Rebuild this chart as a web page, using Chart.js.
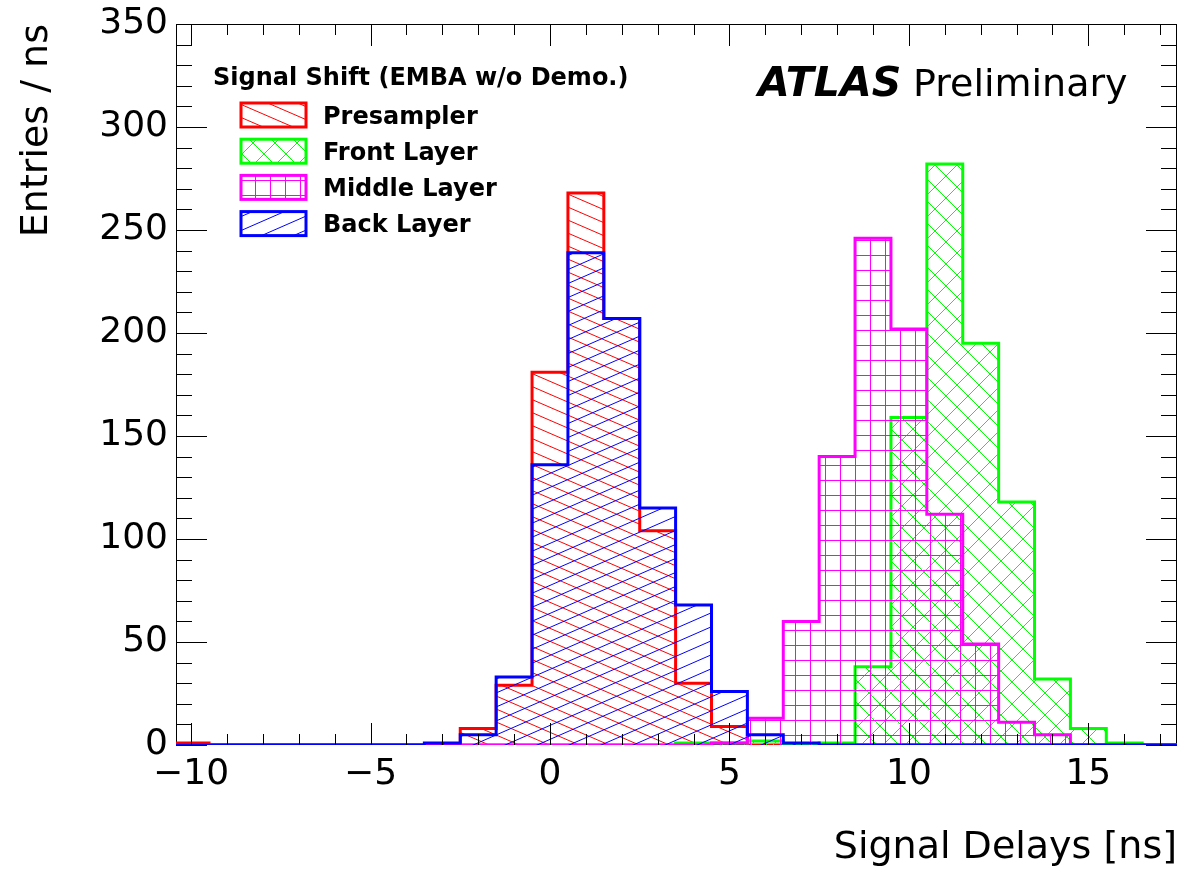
<!DOCTYPE html>
<html>
<head>
<meta charset="utf-8">
<script src="https://cdn.jsdelivr.net/npm/chart.js@4.4.1/dist/chart.umd.min.js"></script>
<style>
  html, body { margin: 0; padding: 0; background: #fff; }
  canvas { display: block; }
</style>
</head>
<body>
<canvas id="chart" width="1183" height="872"></canvas>
<script>
// bin centres, 1 ns wide bins
const binCenters = [-10, -9, -8, -7, -6, -5, -4, -3, -2, -1, 0, 1, 2, 3, 4, 5, 6, 7, 8, 9, 10, 11, 12, 13, 14, 15, 16, 17];

const presampler = [1, 0, 0, 0, 0, 0, 0, 0, 8, 29, 181, 268, 207, 104, 30, 9, 0, 0, 0, 0, 0, 0, 0, 0, 0, 0, 0, 0];
const frontLayer = [0, 0, 0, 0, 0, 0, 0, 0, 0, 0, 0, 0, 0, 0, 1, 1, 2, 0, 1, 38, 159, 282, 195, 118, 32, 8, 1, 0];
const middleLayer = [0, 0, 0, 0, 0, 0, 0, 0, 0, 0, 0, 0, 0, 0, 0, 1, 13, 60, 140, 246, 202, 112, 49, 11, 5, 0, 0, 0];
const backLayer = [0, 0, 0, 0, 0, 0, 0, 1, 5, 33, 136, 239, 207, 115, 68, 26, 5, 1, 0, 0, 0, 0, 0, 0, 0, 0, 0, 0];

const seriesNames = ['Presampler', 'Front Layer', 'Middle Layer', 'Back Layer'];
const seriesColors = ['#ff0000', '#00ff00', '#ff00ff', '#0000ff'];

const xTickValues = [-10, -5, 0, 5, 10, 15];
const yTickValues = [0, 50, 100, 150, 200, 250, 300, 350];

const FONT = '"DejaVu Sans", sans-serif';

// hatch tiles (ROOT-like fill styles)
function makePattern(color, kind) {
  const t = document.createElement('canvas');
  const c = t.getContext('2d');
  let w, h;
  if (kind === 'down') { w = 30; h = 13; }
  else if (kind === 'up') { w = 32; h = 14; }
  else if (kind === 'cross') { w = 22; h = 22; }
  else { w = 15; h = 15; }
  t.width = w; t.height = h;
  c.strokeStyle = color;
  c.lineWidth = 1;
  c.beginPath();
  if (kind === 'down') {
    for (let k = -3; k <= 3; k++) { c.moveTo(-w, k * h - h); c.lineTo(2 * w, k * h + 2 * h); }
  } else if (kind === 'up') {
    for (let k = -3; k <= 3; k++) { c.moveTo(-w, k * h + h); c.lineTo(2 * w, k * h - 2 * h); }
  } else if (kind === 'cross') {
    for (let o = -w; o <= w; o += w) {
      c.moveTo(o, 0); c.lineTo(o + w, h);
      c.moveTo(o + w, 0); c.lineTo(o, h);
    }
  } else {
    c.moveTo(0.5, 0); c.lineTo(0.5, h);
    c.moveTo(0, 0.5); c.lineTo(w, 0.5);
  }
  c.stroke();
  return document.getElementById('chart').getContext('2d').createPattern(t, 'repeat');
}

const patterns = [
  makePattern(seriesColors[0], 'down'),
  makePattern(seriesColors[1], 'cross'),
  makePattern(seriesColors[2], 'grid'),
  makePattern(seriesColors[3], 'up'),
];

function stepPoints(values) {
  const pts = [{ x: binCenters[0] - 0.5, y: 0 }];
  binCenters.forEach((c, i) => pts.push({ x: c - 0.5, y: values[i] }));
  const end = binCenters[binCenters.length - 1] + 0.5;
  pts.push({ x: end, y: values[values.length - 1] });
  pts.push({ x: end, y: 0 });
  return pts;
}

const allSeries = [presampler, frontLayer, middleLayer, backLayer];

const frame = {
  id: 'frame',
  beforeDatasetsDraw(chart) {
    const { ctx, chartArea: a } = chart;
    ctx.save();
    ctx.strokeStyle = '#000';
    ctx.lineWidth = 1;
    ctx.strokeRect(a.left + 0.5, a.top + 0.5, a.right - a.left - 1, a.bottom - a.top - 1);
    ctx.restore();
  },
  afterDatasetsDraw(chart) {
    const { ctx, chartArea: a, scales: { x, y } } = chart;
    ctx.save();
    ctx.strokeStyle = '#000';
    ctx.lineWidth = 1;
    ctx.beginPath();
    for (let v = -10; v <= 17; v++) {
      const px = Math.round(x.getPixelForValue(v)) + 0.5;
      const len = v % 5 === 0 ? 22 : 11;
      ctx.moveTo(px, a.bottom); ctx.lineTo(px, a.bottom - len);
      ctx.moveTo(px, a.top); ctx.lineTo(px, a.top + len);
    }
    for (let v = 0; v <= 350; v += 10) {
      const py = Math.round(y.getPixelForValue(v)) + 0.5;
      const len = v % 50 === 0 ? 31 : 16;
      ctx.moveTo(a.left, py); ctx.lineTo(a.left + len, py);
      ctx.moveTo(a.right, py); ctx.lineTo(a.right - len, py);
    }
    ctx.stroke();

    // ATLAS label
    ctx.fillStyle = '#000';
    ctx.textBaseline = 'alphabetic';
    ctx.font = 'italic bold 41px ' + FONT;
    ctx.fillText('ATLAS', 758, 96);
    ctx.font = '38px ' + FONT;
    ctx.fillText('Preliminary', 913, 96);

    // legend
    ctx.font = 'bold 24px ' + FONT;
    ctx.fillText('Signal Shift (EMBA w/o Demo.)', 213, 85);
    seriesNames.forEach((name, i) => {
      const by = 103 + i * 36.2;
      ctx.fillStyle = patterns[i];
      ctx.fillRect(241, by, 65, 24);
      ctx.strokeStyle = seriesColors[i];
      ctx.lineWidth = 3;
      ctx.strokeRect(241, by, 65, 24);
      ctx.fillStyle = '#000';
      ctx.fillText(name, 323, by + 20.5);
    });
    ctx.restore();
  }
};

new Chart(document.getElementById('chart'), {
  type: 'line',
  data: {
    datasets: allSeries.map((vals, i) => ({
      label: seriesNames[i],
      data: stepPoints(vals),
      borderColor: seriesColors[i],
      backgroundColor: patterns[i],
      borderWidth: 3,
      borderJoinStyle: 'miter',
      stepped: true,
      fill: 'origin',
      pointRadius: 0,
      tension: 0,
      order: 4 - i,
    })),
  },
  options: {
    responsive: false,
    animation: false,
    devicePixelRatio: 1,
    layout: { padding: { top: 24, right: 6, left: 0, bottom: 0 } },
    plugins: {
      legend: { display: false },
      tooltip: { enabled: false },
    },
    scales: {
      x: {
        type: 'linear',
        min: -10.42,
        max: 17.47,
        afterFit(s) { s.height = 127; s.paddingLeft = 0; s.paddingRight = 0; },
        afterBuildTicks(s) { s.ticks = xTickValues.map(v => ({ value: v })); },
        grid: { display: false, drawTicks: false },
        border: { display: false },
        ticks: {
          color: '#000',
          font: { family: FONT, size: 36, lineHeight: 1 },
          padding: 12,
          maxRotation: 0,
          autoSkip: false,
          callback: v => String(v).replace('-', '\u2212'),
        },
        title: {
          display: true,
          text: 'Signal Delays [ns]',
          align: 'end',
          color: '#000',
          font: { family: FONT, size: 38 },
          padding: { top: 0, bottom: 1 },
        },
      },
      y: {
        min: 0,
        max: 350,
        afterFit(s) { s.width = 176; s.paddingTop = 0; s.paddingBottom = 0; },
        afterBuildTicks(s) { s.ticks = yTickValues.map(v => ({ value: v })); },
        grid: { display: false, drawTicks: false },
        border: { display: false },
        ticks: {
          color: '#000',
          font: { family: FONT, size: 36, lineHeight: 1 },
          padding: 8,
        },
        title: {
          display: true,
          text: 'Entries / ns',
          align: 'end',
          color: '#000',
          font: { family: FONT, size: 38 },
          padding: { top: 14, bottom: 0 },
        },
      },
    },
  },
  plugins: [frame],
});
</script>
</body>
</html>
